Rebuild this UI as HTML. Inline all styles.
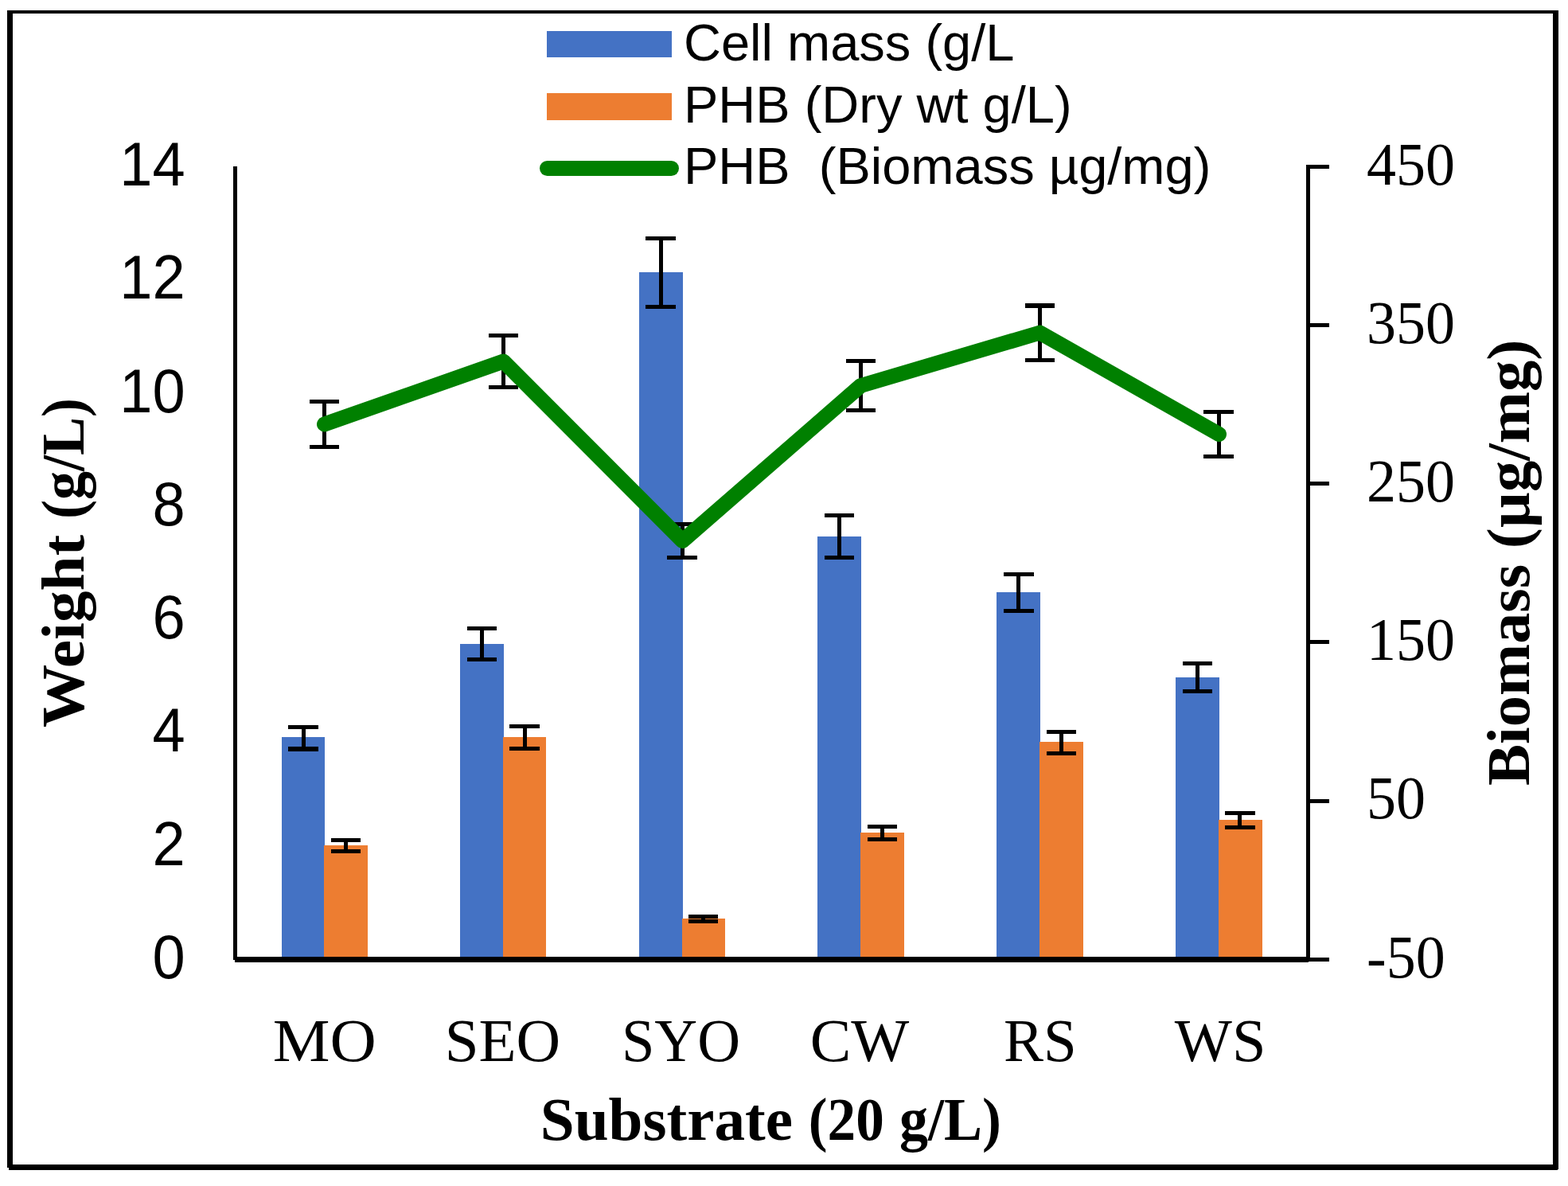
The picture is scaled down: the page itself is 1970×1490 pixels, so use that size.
<!DOCTYPE html>
<html lang="en">
<head>
<meta charset="utf-8">
<title>Cell mass and PHB by substrate</title>
<style>
html,body{margin:0;padding:0;background:#fff;}
body{width:1970px;height:1490px;overflow:hidden;}
svg{display:block;}
.sans{font-family:"Liberation Sans",Arial,Helvetica,sans-serif;}
.serif{font-family:"Liberation Serif","Times New Roman",Times,serif;}
.b{font-weight:bold;}
</style>
</head>
<body>
<svg role="img" aria-label="Cell mass and PHB production on different substrates" width="1970" height="1490" viewBox="0 0 1970 1490">
<rect x="0" y="0" width="1970" height="1490" fill="#ffffff"/>

<!-- outer frame -->
<g>
<rect x="9" y="13" width="1949" height="4" fill="#000" shape-rendering="crispEdges"/>
<rect x="9" y="13" width="7" height="1454" fill="#000" shape-rendering="crispEdges"/>
<rect x="1951" y="13" width="7" height="1456" fill="#000" shape-rendering="crispEdges"/>
<rect x="11" y="1463" width="1946" height="7" fill="#000" shape-rendering="crispEdges"/>
</g>
<!-- bars: cell mass (blue) -->
<g>
<rect x="354" y="926" width="54" height="277" fill="#4472C4" shape-rendering="crispEdges"/>
<rect x="578" y="809" width="55" height="394" fill="#4472C4" shape-rendering="crispEdges"/>
<rect x="803" y="342" width="55" height="861" fill="#4472C4" shape-rendering="crispEdges"/>
<rect x="1027" y="674" width="55" height="529" fill="#4472C4" shape-rendering="crispEdges"/>
<rect x="1252" y="744" width="55" height="459" fill="#4472C4" shape-rendering="crispEdges"/>
<rect x="1477" y="851" width="55" height="352" fill="#4472C4" shape-rendering="crispEdges"/>
</g>
<!-- bars: PHB dry wt (orange) -->
<g>
<rect x="407" y="1062" width="55" height="141" fill="#ED7D31" shape-rendering="crispEdges"/>
<rect x="632" y="926" width="54" height="277" fill="#ED7D31" shape-rendering="crispEdges"/>
<rect x="857" y="1154" width="54" height="49" fill="#ED7D31" shape-rendering="crispEdges"/>
<rect x="1081" y="1046" width="55" height="157" fill="#ED7D31" shape-rendering="crispEdges"/>
<rect x="1306" y="932" width="55" height="271" fill="#ED7D31" shape-rendering="crispEdges"/>
<rect x="1531" y="1030" width="55" height="173" fill="#ED7D31" shape-rendering="crispEdges"/>
</g>
<!-- error bars -->
<g>
<rect x="362" y="911" width="38" height="5" fill="#000" shape-rendering="crispEdges"/>
<rect x="362" y="938" width="38" height="6" fill="#000" shape-rendering="crispEdges"/>
<rect x="379" y="911" width="5" height="33" fill="#000" shape-rendering="crispEdges"/>
<rect x="587" y="787" width="37" height="5" fill="#000" shape-rendering="crispEdges"/>
<rect x="587" y="826" width="37" height="5" fill="#000" shape-rendering="crispEdges"/>
<rect x="603" y="787" width="5" height="44" fill="#000" shape-rendering="crispEdges"/>
<rect x="811" y="297" width="38" height="5" fill="#000" shape-rendering="crispEdges"/>
<rect x="811" y="383" width="38" height="5" fill="#000" shape-rendering="crispEdges"/>
<rect x="828" y="297" width="5" height="91" fill="#000" shape-rendering="crispEdges"/>
<rect x="1036" y="645" width="37" height="5" fill="#000" shape-rendering="crispEdges"/>
<rect x="1036" y="698" width="37" height="5" fill="#000" shape-rendering="crispEdges"/>
<rect x="1052" y="645" width="5" height="58" fill="#000" shape-rendering="crispEdges"/>
<rect x="1261" y="719" width="38" height="5" fill="#000" shape-rendering="crispEdges"/>
<rect x="1261" y="765" width="38" height="5" fill="#000" shape-rendering="crispEdges"/>
<rect x="1277" y="719" width="5" height="51" fill="#000" shape-rendering="crispEdges"/>
<rect x="1486" y="831" width="37" height="5" fill="#000" shape-rendering="crispEdges"/>
<rect x="1486" y="866" width="37" height="5" fill="#000" shape-rendering="crispEdges"/>
<rect x="1502" y="831" width="5" height="40" fill="#000" shape-rendering="crispEdges"/>
<rect x="416" y="1053" width="37" height="5" fill="#000" shape-rendering="crispEdges"/>
<rect x="416" y="1067" width="37" height="5" fill="#000" shape-rendering="crispEdges"/>
<rect x="432" y="1053" width="5" height="19" fill="#000" shape-rendering="crispEdges"/>
<rect x="640" y="910" width="38" height="5" fill="#000" shape-rendering="crispEdges"/>
<rect x="640" y="938" width="38" height="5" fill="#000" shape-rendering="crispEdges"/>
<rect x="657" y="910" width="5" height="33" fill="#000" shape-rendering="crispEdges"/>
<rect x="865" y="1149" width="37" height="5" fill="#000" shape-rendering="crispEdges"/>
<rect x="865" y="1155" width="37" height="5" fill="#000" shape-rendering="crispEdges"/>
<rect x="881" y="1149" width="5" height="11" fill="#000" shape-rendering="crispEdges"/>
<rect x="1090" y="1036" width="37" height="5" fill="#000" shape-rendering="crispEdges"/>
<rect x="1090" y="1052" width="37" height="5" fill="#000" shape-rendering="crispEdges"/>
<rect x="1106" y="1036" width="5" height="21" fill="#000" shape-rendering="crispEdges"/>
<rect x="1315" y="917" width="37" height="5" fill="#000" shape-rendering="crispEdges"/>
<rect x="1315" y="944" width="37" height="5" fill="#000" shape-rendering="crispEdges"/>
<rect x="1331" y="917" width="5" height="32" fill="#000" shape-rendering="crispEdges"/>
<rect x="1539" y="1019" width="38" height="5" fill="#000" shape-rendering="crispEdges"/>
<rect x="1539" y="1037" width="38" height="5" fill="#000" shape-rendering="crispEdges"/>
<rect x="1555" y="1019" width="5" height="23" fill="#000" shape-rendering="crispEdges"/>
<rect x="389" y="502" width="37" height="5" fill="#000" shape-rendering="crispEdges"/>
<rect x="389" y="559" width="37" height="5" fill="#000" shape-rendering="crispEdges"/>
<rect x="405" y="502" width="5" height="62" fill="#000" shape-rendering="crispEdges"/>
<rect x="614" y="419" width="37" height="5" fill="#000" shape-rendering="crispEdges"/>
<rect x="614" y="484" width="37" height="5" fill="#000" shape-rendering="crispEdges"/>
<rect x="630" y="419" width="5" height="70" fill="#000" shape-rendering="crispEdges"/>
<rect x="838" y="656" width="38" height="5" fill="#000" shape-rendering="crispEdges"/>
<rect x="838" y="698" width="38" height="5" fill="#000" shape-rendering="crispEdges"/>
<rect x="855" y="656" width="5" height="47" fill="#000" shape-rendering="crispEdges"/>
<rect x="1063" y="451" width="37" height="5" fill="#000" shape-rendering="crispEdges"/>
<rect x="1063" y="513" width="37" height="5" fill="#000" shape-rendering="crispEdges"/>
<rect x="1079" y="451" width="5" height="67" fill="#000" shape-rendering="crispEdges"/>
<rect x="1288" y="381" width="37" height="6" fill="#000" shape-rendering="crispEdges"/>
<rect x="1288" y="450" width="37" height="5" fill="#000" shape-rendering="crispEdges"/>
<rect x="1304" y="381" width="5" height="74" fill="#000" shape-rendering="crispEdges"/>
<rect x="1512" y="515" width="38" height="5" fill="#000" shape-rendering="crispEdges"/>
<rect x="1512" y="571" width="38" height="5" fill="#000" shape-rendering="crispEdges"/>
<rect x="1529" y="515" width="5" height="61" fill="#000" shape-rendering="crispEdges"/>
</g>
<!-- PHB biomass line -->
<polyline points="407.5,533 632.5,454 857.5,679.5 1081.5,484.5 1306.5,418 1531.5,545.5" fill="none" stroke="#008000" stroke-width="19" stroke-linecap="round" stroke-linejoin="round"/>
<!-- axes -->
<g>
<rect x="293" y="209" width="5" height="997" fill="#000" shape-rendering="crispEdges"/>
<rect x="295" y="1202" width="1349" height="7" fill="#000" shape-rendering="crispEdges"/>
<rect x="1641" y="207" width="5" height="1001" fill="#000" shape-rendering="crispEdges"/>
<rect x="1646" y="207" width="24" height="5" fill="#000" shape-rendering="crispEdges"/>
<rect x="1646" y="406" width="24" height="5" fill="#000" shape-rendering="crispEdges"/>
<rect x="1646" y="605" width="24" height="5" fill="#000" shape-rendering="crispEdges"/>
<rect x="1646" y="804" width="24" height="5" fill="#000" shape-rendering="crispEdges"/>
<rect x="1646" y="1004" width="24" height="5" fill="#000" shape-rendering="crispEdges"/>
<rect x="1646" y="1203" width="24" height="5" fill="#000" shape-rendering="crispEdges"/>
</g>
<!-- legend -->
<g>
<rect x="687" y="39" width="157" height="33" fill="#4472C4" shape-rendering="crispEdges"/>
<rect x="687" y="117" width="157" height="34" fill="#ED7D31" shape-rendering="crispEdges"/>
<line x1="687.5" y1="211.5" x2="843.5" y2="211.5" stroke="#008000" stroke-width="19" stroke-linecap="round"/>
</g>
<g class="sans" font-size="65" fill="#000">
<text x="859" y="76">Cell mass (g/L</text>
<text x="859" y="154">PHB (Dry wt g/L)</text>
<text x="859" y="231" xml:space="preserve" style="white-space:pre">PHB  (Biomass µg/mg)</text>
</g>
<!-- left axis labels -->
<g class="sans" font-size="74" fill="#000" text-anchor="end">
<text transform="translate(232.6 233.0) scale(1 1.04)">14</text>
<text transform="translate(232.6 375.3) scale(1 1.04)">12</text>
<text transform="translate(232.6 517.6) scale(1 1.04)">10</text>
<text transform="translate(232.6 659.9) scale(1 1.04)">8</text>
<text transform="translate(232.6 802.2) scale(1 1.04)">6</text>
<text transform="translate(232.6 944.4) scale(1 1.04)">4</text>
<text transform="translate(232.6 1086.7) scale(1 1.04)">2</text>
<text transform="translate(232.6 1229.0) scale(1 1.04)">0</text>
</g>
<!-- right axis labels -->
<g class="serif" font-size="74" fill="#000">
<text transform="translate(1717 231.5) scale(1 1.04)">450</text>
<text transform="translate(1717 430.7) scale(1 1.04)">350</text>
<text transform="translate(1717 629.9) scale(1 1.04)">250</text>
<text transform="translate(1717 829.1) scale(1 1.04)">150</text>
<text transform="translate(1717 1028.3) scale(1 1.04)">50</text>
<text transform="translate(1717 1227.5) scale(1 1.04)">-50</text>
</g>
<!-- category labels -->
<g class="serif" font-size="74" fill="#000">
<text transform="translate(342.7 1333) scale(1.0904 1.025)">MO</text>
<text transform="translate(558.7 1333) scale(1.0402 1.025)">SEO</text>
<text transform="translate(780.9 1333) scale(1.0079 1.025)">SYO</text>
<text transform="translate(1017.8 1333) scale(1.0448 1.025)">CW</text>
<text transform="translate(1260.9 1333) scale(1.0131 1.025)">RS</text>
<text transform="translate(1475.8 1333) scale(1.0321 1.025)">WS</text>
</g>
<!-- axis titles -->
<g class="serif b" font-size="74" fill="#000">
<text transform="translate(0 1431.5) scale(1 1.02)"><tspan x="678.8" textLength="317.1" lengthAdjust="spacingAndGlyphs">Substrate</tspan> <tspan x="1015.8" textLength="95.0" lengthAdjust="spacingAndGlyphs">(20</tspan> <tspan x="1130.0" textLength="128.0" lengthAdjust="spacingAndGlyphs">g/L)</tspan></text>
<text transform="translate(105 0) rotate(-90) scale(1 1.02)"><tspan x="-914.1" textLength="242.2" lengthAdjust="spacingAndGlyphs">Weight</tspan> <tspan x="-651.9" textLength="152.0" lengthAdjust="spacingAndGlyphs">(g/L)</tspan></text>
<text transform="translate(1921 0) rotate(-90) scale(1 1.02)"><tspan x="-987.1" textLength="278.3" lengthAdjust="spacingAndGlyphs">Biomass</tspan> <tspan x="-689.2" textLength="262.5" lengthAdjust="spacingAndGlyphs">(µg/mg)</tspan></text>
</g>
</svg>
</body>
</html>
